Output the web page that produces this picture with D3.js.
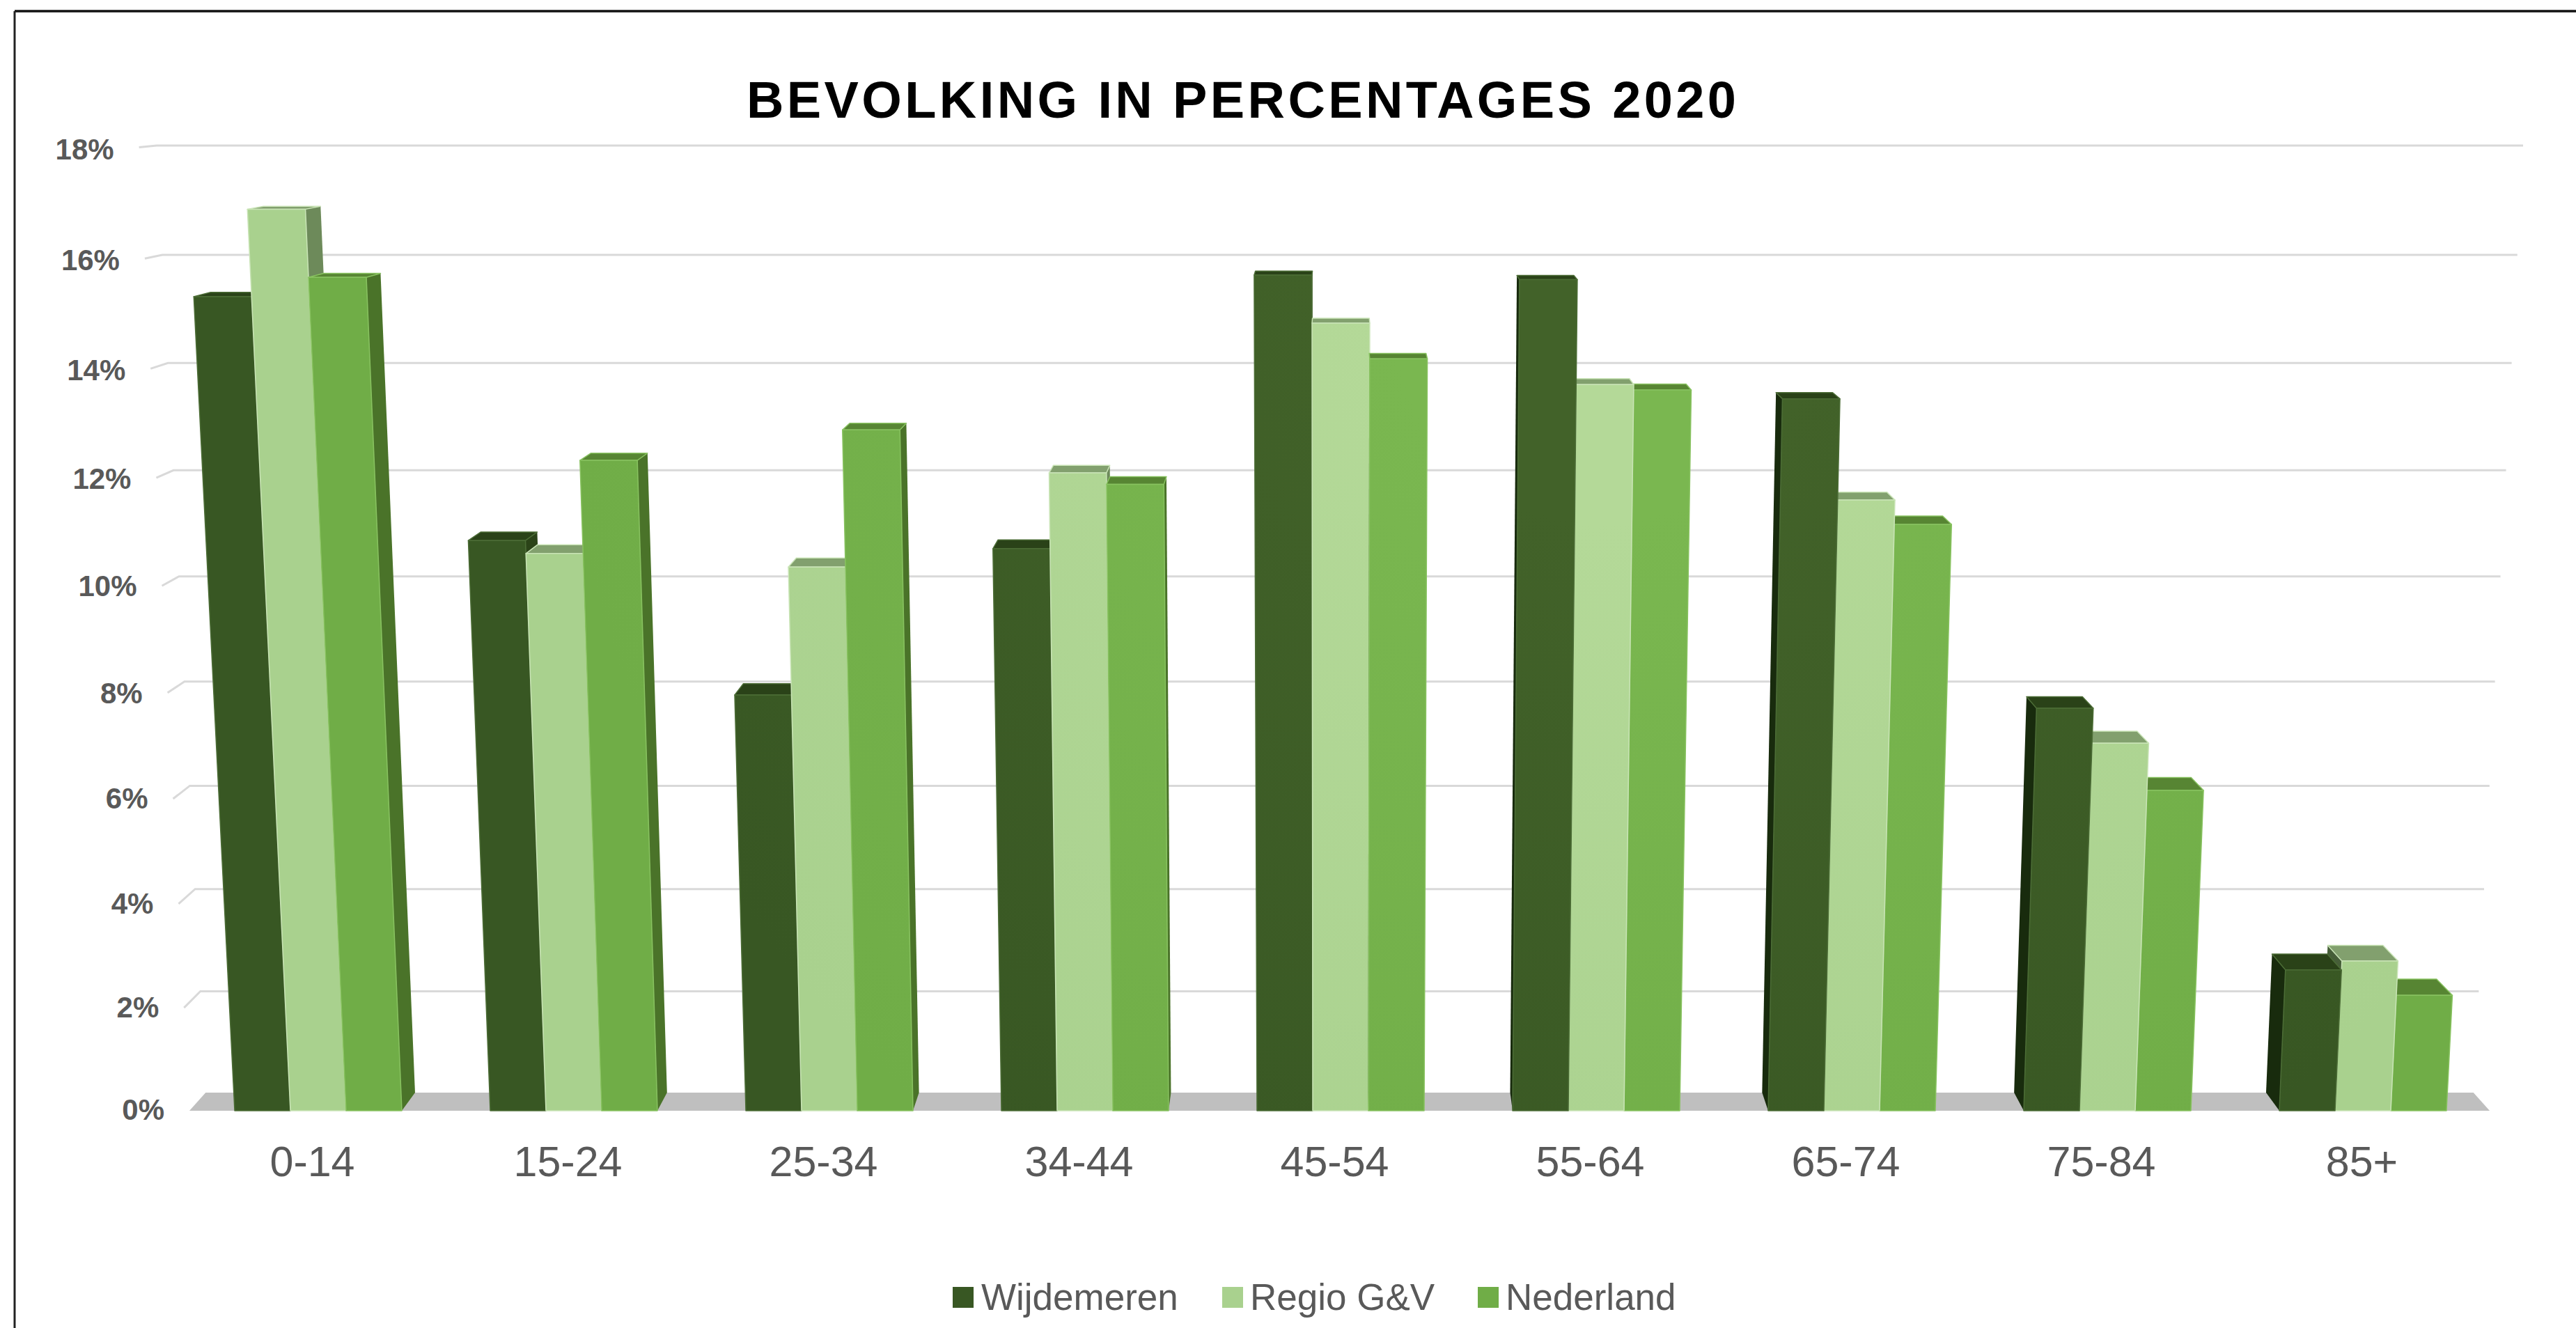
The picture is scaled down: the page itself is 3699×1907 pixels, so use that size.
<!DOCTYPE html>
<html>
<head>
<meta charset="utf-8">
<script src="https://cdn.jsdelivr.net/npm/d3@7"></script>
<style>
html,body{margin:0;padding:0;background:#fff;overflow:hidden}
svg{display:block}
text{font-family:"Liberation Sans",Arial,sans-serif}
</style>
</head>
<body>
<svg id="chart" width="3699" height="1907"></svg>
<script>
const titleText = "BEVOLKING IN PERCENTAGES 2020";
const categories = ["0-14","15-24","25-34","34-44","45-54","55-64","65-74","75-84","85+"];
const seriesNames = ["Wijdemeren","Regio G&V","Nederland"];
const wijdemeren = [15.31,10.84,7.96,10.69,15.70,15.62,13.45,7.71,2.73];
const regioGV    = [16.89,10.60,10.35,12.09,14.83,13.71,11.59,7.05,2.90];
const nederland  = [15.66,12.32,12.88,11.88,14.18,13.61,11.14,6.16,2.24];
const yTicks = [0,2,4,6,8,10,12,14,16,18];

const seriesValues = [wijdemeren, regioGV, nederland];
const frontCol = ["url(#gDark)","url(#gLight)","url(#gMid)"];
const edgeCol  = ["#4c6d36","#c9e4b6","#88c260"];
const topCol   = ["#2a4218","#82a06e","#578533"];
const sideR    = ["#2b4318","#6d8a5a","#4a7329"];
const sideL    = ["#182b0d","#465e38","#34521d"];
const legendCol= ["#385723","#a9d18e","#70ad47"];

const svg = d3.select("#chart");

// Perspective camera for the 3-D column chart
const cam = {f:-0.002348, g:0.0143, bx:-4.49, cx:27.5, by:-77.355, cy:-3.6, k:0.23, y0:1595};
function project(px, v, d){
  const w = 1 + cam.f*v + cam.g*d;
  return [(px + cam.bx*v + cam.cx*d)/w, (cam.y0 + cam.by*v + (cam.cy + cam.k*v)*d)/w];
}
const poly = pts => pts.map(p => p.join(",")).join(" ");

const xGroup  = d3.scaleBand().domain(categories).range([272,3575]);
const xSeries = d3.scaleBand().domain(d3.range(3)).range([65,305]);
const X0 = xGroup.range()[0], X1 = xGroup.range()[1];
const labelX = c => xGroup(c) + xGroup.bandwidth()/2 + (c === "85+" ? 0 : -7);

// Gradients (faint lightening towards the upper middle of the chart)
const defs = svg.append("defs");
[["gDark","#426229","#385723"],["gLight","#b4d998","#a9d18e"],["gMid","#7ab750","#70ad47"]].forEach(g=>{
  const rg = defs.append("radialGradient").attr("id",g[0]).attr("gradientUnits","userSpaceOnUse")
    .attr("cx",2300).attr("cy",450).attr("r",1500);
  rg.append("stop").attr("offset",0.2).attr("stop-color",g[1]);
  rg.append("stop").attr("offset",1).attr("stop-color",g[2]);
});

// Frame
svg.append("line").attr("x1",21).attr("x2",3699).attr("y1",16).attr("y2",16).attr("stroke","#111").attr("stroke-width",3.5);
svg.append("line").attr("x1",21).attr("x2",21).attr("y1",16).attr("y2",1907).attr("stroke","#222").attr("stroke-width",3);

// Title
const title = svg.append("text").attr("x",1072).attr("y",169)
  .attr("font-size",74).attr("font-weight","bold").attr("fill","#000").text(titleText);
const tw = title.node().getComputedTextLength();
title.attr("letter-spacing",(1421-tw)/(titleText.length-1));

// Gridlines (back wall plus left wall)
svg.append("g").selectAll("polyline").data(yTicks.filter(t=>t>0)).join("polyline")
  .attr("points",t=>poly([project(X0,t,0),project(X0,t,1),project(X1,t,1)]))
  .attr("fill","none").attr("stroke","#d9d9d9").attr("stroke-width",3);

// Floor
svg.append("polygon")
  .attr("points",poly([project(X0,0,0),project(X0,0,1),project(X1,0,1),project(X1,0,0)]))
  .attr("fill","#bfbfbf");

// Y axis labels
svg.append("g").selectAll("text").data(yTicks).join("text")
  .attr("x",t=>project(X0,t,0)[0]-36)
  .attr("y",t=>project(X0,t,0)[1]+13+t*4/18)
  .attr("text-anchor","end").attr("font-size",42).attr("font-weight","bold").attr("fill","#595959")
  .text(t=>t+"%");

// Bars
const gBars = svg.append("g");
categories.forEach((cat,ci)=>{
  const g0 = xGroup(cat);
  const onLeft = g0 + xGroup.bandwidth()/2 < 1924;
  const order = onLeft ? [0,1,2] : [2,1,0];
  order.forEach(si=>{
    const v = seriesValues[si][ci];
    const a = g0 + xSeries(si), b = a + xSeries.bandwidth();
    const g = gBars.append("g");
    // side faces
    if(project(b,v,1)[0] > project(b,v,0)[0]){
      g.append("polygon").attr("points",poly([project(b,0,0),project(b,0,1),project(b,v,1),project(b,v,0)]))
        .attr("fill",sideR[si]);
    }
    if(project(a,v,1)[0] < project(a,v,0)[0]){
      g.append("polygon").attr("points",poly([project(a,0,0),project(a,0,1),project(a,v,1),project(a,v,0)]))
        .attr("fill",sideL[si]);
    }
    // top face
    g.append("polygon").attr("points",poly([project(a,v,0),project(a,v,1),project(b,v,1),project(b,v,0)]))
      .attr("fill",topCol[si]).attr("stroke",edgeCol[si]).attr("stroke-width",1.5).attr("stroke-linejoin","round");
    // front face
    g.append("polygon").attr("points",poly([project(a,0,0),project(a,v,0),project(b,v,0),project(b,0,0)]))
      .attr("fill",frontCol[si]).attr("stroke",edgeCol[si]).attr("stroke-width",1.5).attr("stroke-linejoin","round");
  });
});

// Category labels
svg.append("g").selectAll("text").data(categories).join("text")
  .attr("x",c=>labelX(c)).attr("y",1689)
  .attr("text-anchor","middle").attr("font-size",61).attr("fill","#595959")
  .text(c=>c);

// Legend
const legendSwatchX = [1368,1755,2122];
const legendTextX = [1409,1795,2162];
const lg = svg.append("g");
seriesNames.forEach((n,i)=>{
  lg.append("rect").attr("x",legendSwatchX[i]).attr("y",1848).attr("width",30).attr("height",30).attr("fill",legendCol[i]);
  lg.append("text").attr("x",legendTextX[i]).attr("y",1881).attr("font-size",53).attr("fill","#595959").text(n);
});
</script>
</body>
</html>
